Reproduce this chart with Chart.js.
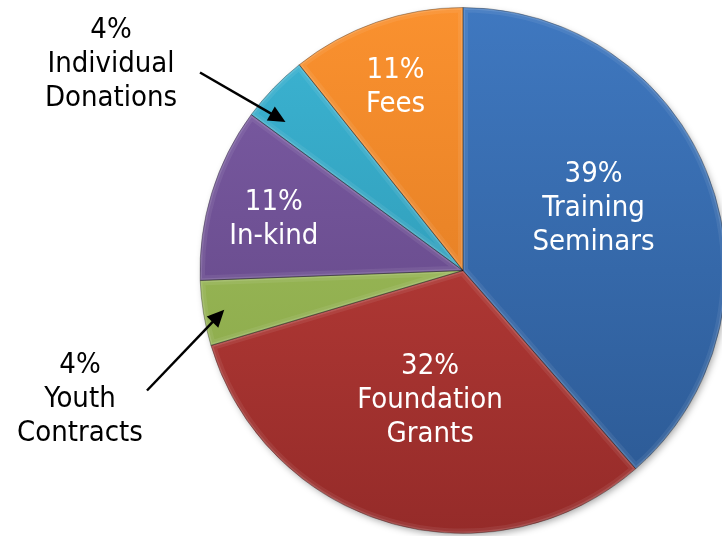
<!DOCTYPE html>
<html>
<head>
<meta charset="utf-8">
<script src="https://cdn.jsdelivr.net/npm/chart.js@4"></script>
<style>
  html, body { margin: 0; padding: 0; background: #fff; overflow: hidden; }
  #wrap { width: 722px; height: 536px; position: relative; }
</style>
</head>
<body>
<div id="wrap"><canvas id="revenueChart" width="722" height="536"></canvas></div>
<script>
// funding sources, clockwise from 12 o'clock
const sources = ["Training Seminars", "Foundation Grants", "Youth Contracts", "In-kind", "Individual Donations", "Fees"];
const labelLines = [["Training", "Seminars"], ["Foundation", "Grants"], ["Youth", "Contracts"], ["In-kind"], ["Individual", "Donations"], ["Fees"]];
const shares = [38.6, 31.8, 4.0, 10.7, 4.2, 10.7];

// light (top) and dark (bottom) tone of each slice
const lightColors = ["#3f78c0", "#c6433e", "#a5c460", "#7d5da6", "#3cb5d4", "#fa912f"];
const darkColors = ["#2b5892", "#952b29", "#84a245", "#5c417d", "#288ca6", "#d6741e"];

const fontFamily = "'DejaVu Sans Condensed', 'DejaVu Sans', Tahoma, sans-serif";

// where the text goes for each slice: inside at a fraction of the radius, or outside with an arrow
const placement = [
	{ inside: 0.55, shift: -5 },
	{ inside: 0.51, shift: -2 },
	{ text: [-383, 129], tail: [-316, 120], tip: 0.92, tipShift: 0 },
	{ inside: 0.745, shift: -2 },
	{ text: [-352, -206], tail: [-263, -198], tip: 0.88, tipShift: -4 },
	{ inside: 0.74, shift: -1 },
];

function pct(v) {
	const total = shares.reduce((a, b) => a + b, 0);
	return Math.round((v / total) * 100) + "%";
}

function sliceFill(context) {
	const chart = context.chart;
	const i = context.dataIndex;
	const area = chart.chartArea;
	if (!area) return lightColors[i];
	const cy = (area.top + area.bottom) / 2;
	const r = chart.options.radius;
	const g = chart.ctx.createLinearGradient(0, cy - r, 0, cy + r);
	g.addColorStop(0, lightColors[i]);
	g.addColorStop(1, darkColors[i]);
	return g;
}

const bevelPlugin = {
	id: "bevel",
	beforeDatasetsDraw(chart) {
		// soft shadow under the pie
		const arc = chart.getDatasetMeta(0).data[0];
		if (!arc) return;
		const ctx = chart.ctx;
		ctx.save();
		ctx.shadowColor = "rgba(0,0,0,0.35)";
		ctx.shadowBlur = 7;
		ctx.shadowOffsetX = 2;
		ctx.shadowOffsetY = 3;
		ctx.fillStyle = "#777";
		ctx.beginPath();
		ctx.arc(arc.x, arc.y, arc.outerRadius - 1, 0, Math.PI * 2);
		ctx.fill();
		ctx.restore();
	},
	afterDatasetsDraw(chart) {
		const ctx = chart.ctx;
		chart.getDatasetMeta(0).data.forEach((arc) => {
			const path = () => {
				ctx.beginPath();
				ctx.moveTo(arc.x, arc.y);
				ctx.arc(arc.x, arc.y, arc.outerRadius, arc.startAngle, arc.endAngle);
				ctx.closePath();
			};
			ctx.save();
			path();
			ctx.clip();
			path();
			ctx.lineJoin = "round";
			ctx.strokeStyle = "rgba(255,255,255,0.07)";
			ctx.lineWidth = 10;
			ctx.stroke();
			ctx.strokeStyle = "rgba(255,255,255,0.12)";
			ctx.lineWidth = 4;
			ctx.stroke();
			ctx.restore();
			ctx.save();
			path();
			ctx.strokeStyle = "rgba(0,0,0,0.3)";
			ctx.lineWidth = 1;
			ctx.stroke();
			ctx.restore();
		});
	},
};

const labelPlugin = {
	id: "sliceLabels",
	afterDraw(chart) {
		const ctx = chart.ctx;
		const lineH = 34;
		ctx.save();
		ctx.font = "29px " + fontFamily;
		ctx.textAlign = "center";
		ctx.textBaseline = "middle";
		chart.getDatasetMeta(0).data.forEach((arc, i) => {
			const p = placement[i];
			const lines = [pct(shares[i])].concat(labelLines[i]);
			const midRaw = (arc.startAngle + arc.endAngle) / 2;
			const mid = midRaw + (p.shift || 0) * Math.PI / 180;
			let cx, cy;
			if (p.inside) {
				cx = arc.x + Math.cos(mid) * arc.outerRadius * p.inside;
				cy = arc.y + Math.sin(mid) * arc.outerRadius * p.inside;
				ctx.fillStyle = "#ffffff";
			} else {
				cx = arc.x + p.text[0];
				cy = arc.y + p.text[1];
				ctx.fillStyle = "#000000";
				// arrow from label toward the slice
				const ta = midRaw + p.tipShift * Math.PI / 180;
				const tx = arc.x + Math.cos(ta) * arc.outerRadius * p.tip;
				const ty = arc.y + Math.sin(ta) * arc.outerRadius * p.tip;
				const sx = arc.x + p.tail[0];
				const sy = arc.y + p.tail[1];
				const a = Math.atan2(ty - sy, tx - sx);
				const head = 17, half = 8;
				ctx.strokeStyle = "#000";
				ctx.lineWidth = 2.5;
				ctx.beginPath();
				ctx.moveTo(sx, sy);
				ctx.lineTo(tx - Math.cos(a) * head * 0.8, ty - Math.sin(a) * head * 0.8);
				ctx.stroke();
				ctx.beginPath();
				ctx.moveTo(tx, ty);
				ctx.lineTo(tx - Math.cos(a) * head - Math.sin(a) * half, ty - Math.sin(a) * head + Math.cos(a) * half);
				ctx.lineTo(tx - Math.cos(a) * head + Math.sin(a) * half, ty - Math.sin(a) * head - Math.cos(a) * half);
				ctx.closePath();
				ctx.fillStyle = "#000";
				ctx.fill();
			}
			const top = cy - ((lines.length - 1) * lineH) / 2;
			lines.forEach((t, k) => ctx.fillText(t, cx, top + k * lineH));
		});
		ctx.restore();
	},
};

new Chart(document.getElementById("revenueChart").getContext("2d"), {
	type: "pie",
	data: {
		labels: sources,
		datasets: [
			{
				data: shares,
				backgroundColor: sliceFill,
				borderWidth: 0,
				clip: false,
			},
		],
	},
	options: {
		responsive: false,
		animation: false,
		radius: 263,
		layout: { padding: { left: 204, right: 0, top: 5, bottom: 0 } },
		plugins: {
			legend: { display: false },
			tooltip: { enabled: false },
		},
	},
	plugins: [bevelPlugin, labelPlugin],
});
</script>
</body>
</html>
